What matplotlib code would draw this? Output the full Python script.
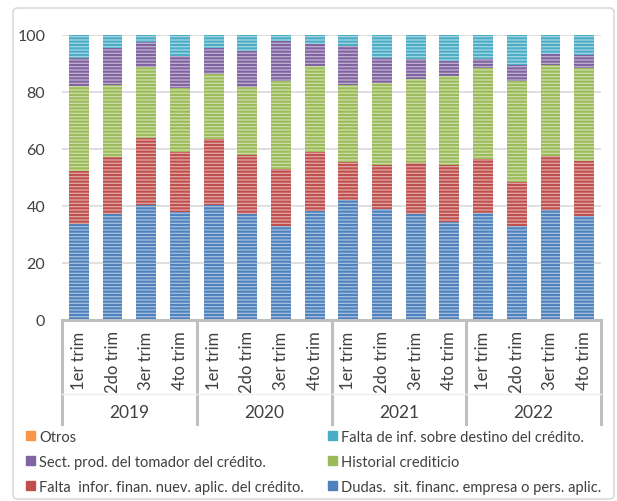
import numpy as np
import matplotlib.pyplot as plt
from matplotlib.patches import Patch, FancyBboxPatch
from matplotlib.colors import to_rgb

plt.rcParams['font.family'] = ['Lato', 'DejaVu Sans']
plt.rcParams['hatch.linewidth'] = 1.5

years = ['2019', '2020', '2021', '2022']
quarters = ['1er trim', '2do trim', '3er trim', '4to trim']

# shares (%) per quarter, bottom to top
dudas = [33.7, 37.2, 40.5, 38.0, 40.5, 37.2, 33.0, 38.2, 42.1, 38.8, 37.2, 34.3, 37.7, 32.9, 38.5, 36.4]
falta_infor = [18.7, 20.1, 23.4, 20.8, 23.1, 20.6, 20.1, 20.6, 13.2, 15.7, 17.9, 20.2, 18.8, 15.5, 18.9, 19.3]
historial = [29.6, 25.2, 25.0, 22.6, 22.6, 24.1, 30.9, 30.2, 27.2, 28.7, 29.5, 31.2, 31.9, 35.5, 32.1, 32.6]
sect_prod = [9.8, 12.8, 8.8, 11.2, 9.1, 12.6, 14.0, 7.7, 13.8, 8.7, 7.1, 5.2, 3.3, 5.7, 3.8, 4.7]
falta_destino = [8.2, 4.7, 2.3, 7.4, 4.7, 5.5, 2.0, 3.3, 3.7, 8.1, 8.3, 9.1, 8.3, 10.4, 6.7, 7.0]
otros = [0.0] * 16

series = [
    ('Dudas.  sit. financ. empresa o pers. aplic.', dudas, '#4F81BD'),
    ('Falta  infor. finan. nuev. aplic. del crédito.', falta_infor, '#C0504D'),
    ('Historial crediticio', historial, '#9BBB59'),
    ('Sect. prod. del tomador del crédito.', sect_prod, '#8064A2'),
    ('Falta de inf. sobre destino del crédito.', falta_destino, '#4BACC6'),
    ('Otros', otros, '#F79646'),
]


def tint(c, f=0.5):
    r = np.array(to_rgb(c))
    return tuple(r + (1 - r) * f)


fig = plt.figure(figsize=(6.17, 5.02), dpi=100)
ax = fig.add_axes([62 / 617, (502 - 321) / 502, 539 / 617, 285 / 502])

x = np.arange(len(dudas))
bottom = np.zeros(len(x))
for name, vals, col in series:
    vals = np.array(vals)
    ax.bar(x, vals, 0.59, bottom=bottom, color=tint(col), edgecolor=col,
           linewidth=0, hatch='-----', zorder=2)
    bottom += vals

ax.set_xlim(-0.5, len(x) - 0.5)
ax.set_ylim(0, 100)
ax.set_yticks(range(0, 101, 20))
ax.grid(axis='y', color='#D9D9D9', linewidth=1.2, zorder=0)
for s in ax.spines.values():
    s.set_visible(False)
ax.tick_params(axis='y', length=0, pad=12, labelsize=11.5, labelcolor='#404040')
ax.set_xticks([])

# two-level category axis
tr = ax.get_xaxis_transform()
gc = '#BFBFBF'
ax.plot([-0.5, len(x) - 0.5], [0, 0], transform=tr, color=gc, lw=2.2, clip_on=False, zorder=3)
for b in np.arange(-0.5, len(x), 4):
    ax.plot([b, b], [0, -0.365], transform=tr, color=gc, lw=2.2, clip_on=False)
ax.plot([-0.5, len(x) - 0.5], [-0.26, -0.26], transform=tr, color='#EDEDED', lw=1, clip_on=False)
for i in x:
    ax.text(i, -0.036, quarters[i % 4], transform=tr, rotation=90, ha='center', va='top',
            fontsize=12, color='#404040')
for k, yr in enumerate(years):
    ax.text(4 * k + 1.5, -0.322, yr, transform=tr, ha='center', va='center',
            fontsize=12.5, color='#404040')

# legend in two columns
by_name = {n: c for n, v, c in series}
col1 = ['Otros', 'Sect. prod. del tomador del crédito.', 'Falta  infor. finan. nuev. aplic. del crédito.']
col2 = ['Falta de inf. sobre destino del crédito.', 'Historial crediticio', 'Dudas.  sit. financ. empresa o pers. aplic.']
for names, x0 in [(col1, 26 / 617), (col2, 328 / 617)]:
    h = [Patch(color=by_name[n], label=n) for n in names]
    fig.legend(handles=h, loc='upper left', bbox_to_anchor=(x0, (502 - 431) / 502),
               frameon=False, fontsize=10.5, handlelength=0.6, handleheight=0.6,
               handletextpad=0.3, labelspacing=0.74, borderpad=0, borderaxespad=0,
               labelcolor='#404040')

fig.patches.append(FancyBboxPatch((13 / 617, 2 / 502), 601 / 617, 491 / 502,
                                  boxstyle='round,pad=0,rounding_size=0.008',
                                  transform=fig.transFigure, fill=False,
                                  edgecolor='#D9D9D9', linewidth=1.2))

fig.savefig('out.png', dpi=100)
